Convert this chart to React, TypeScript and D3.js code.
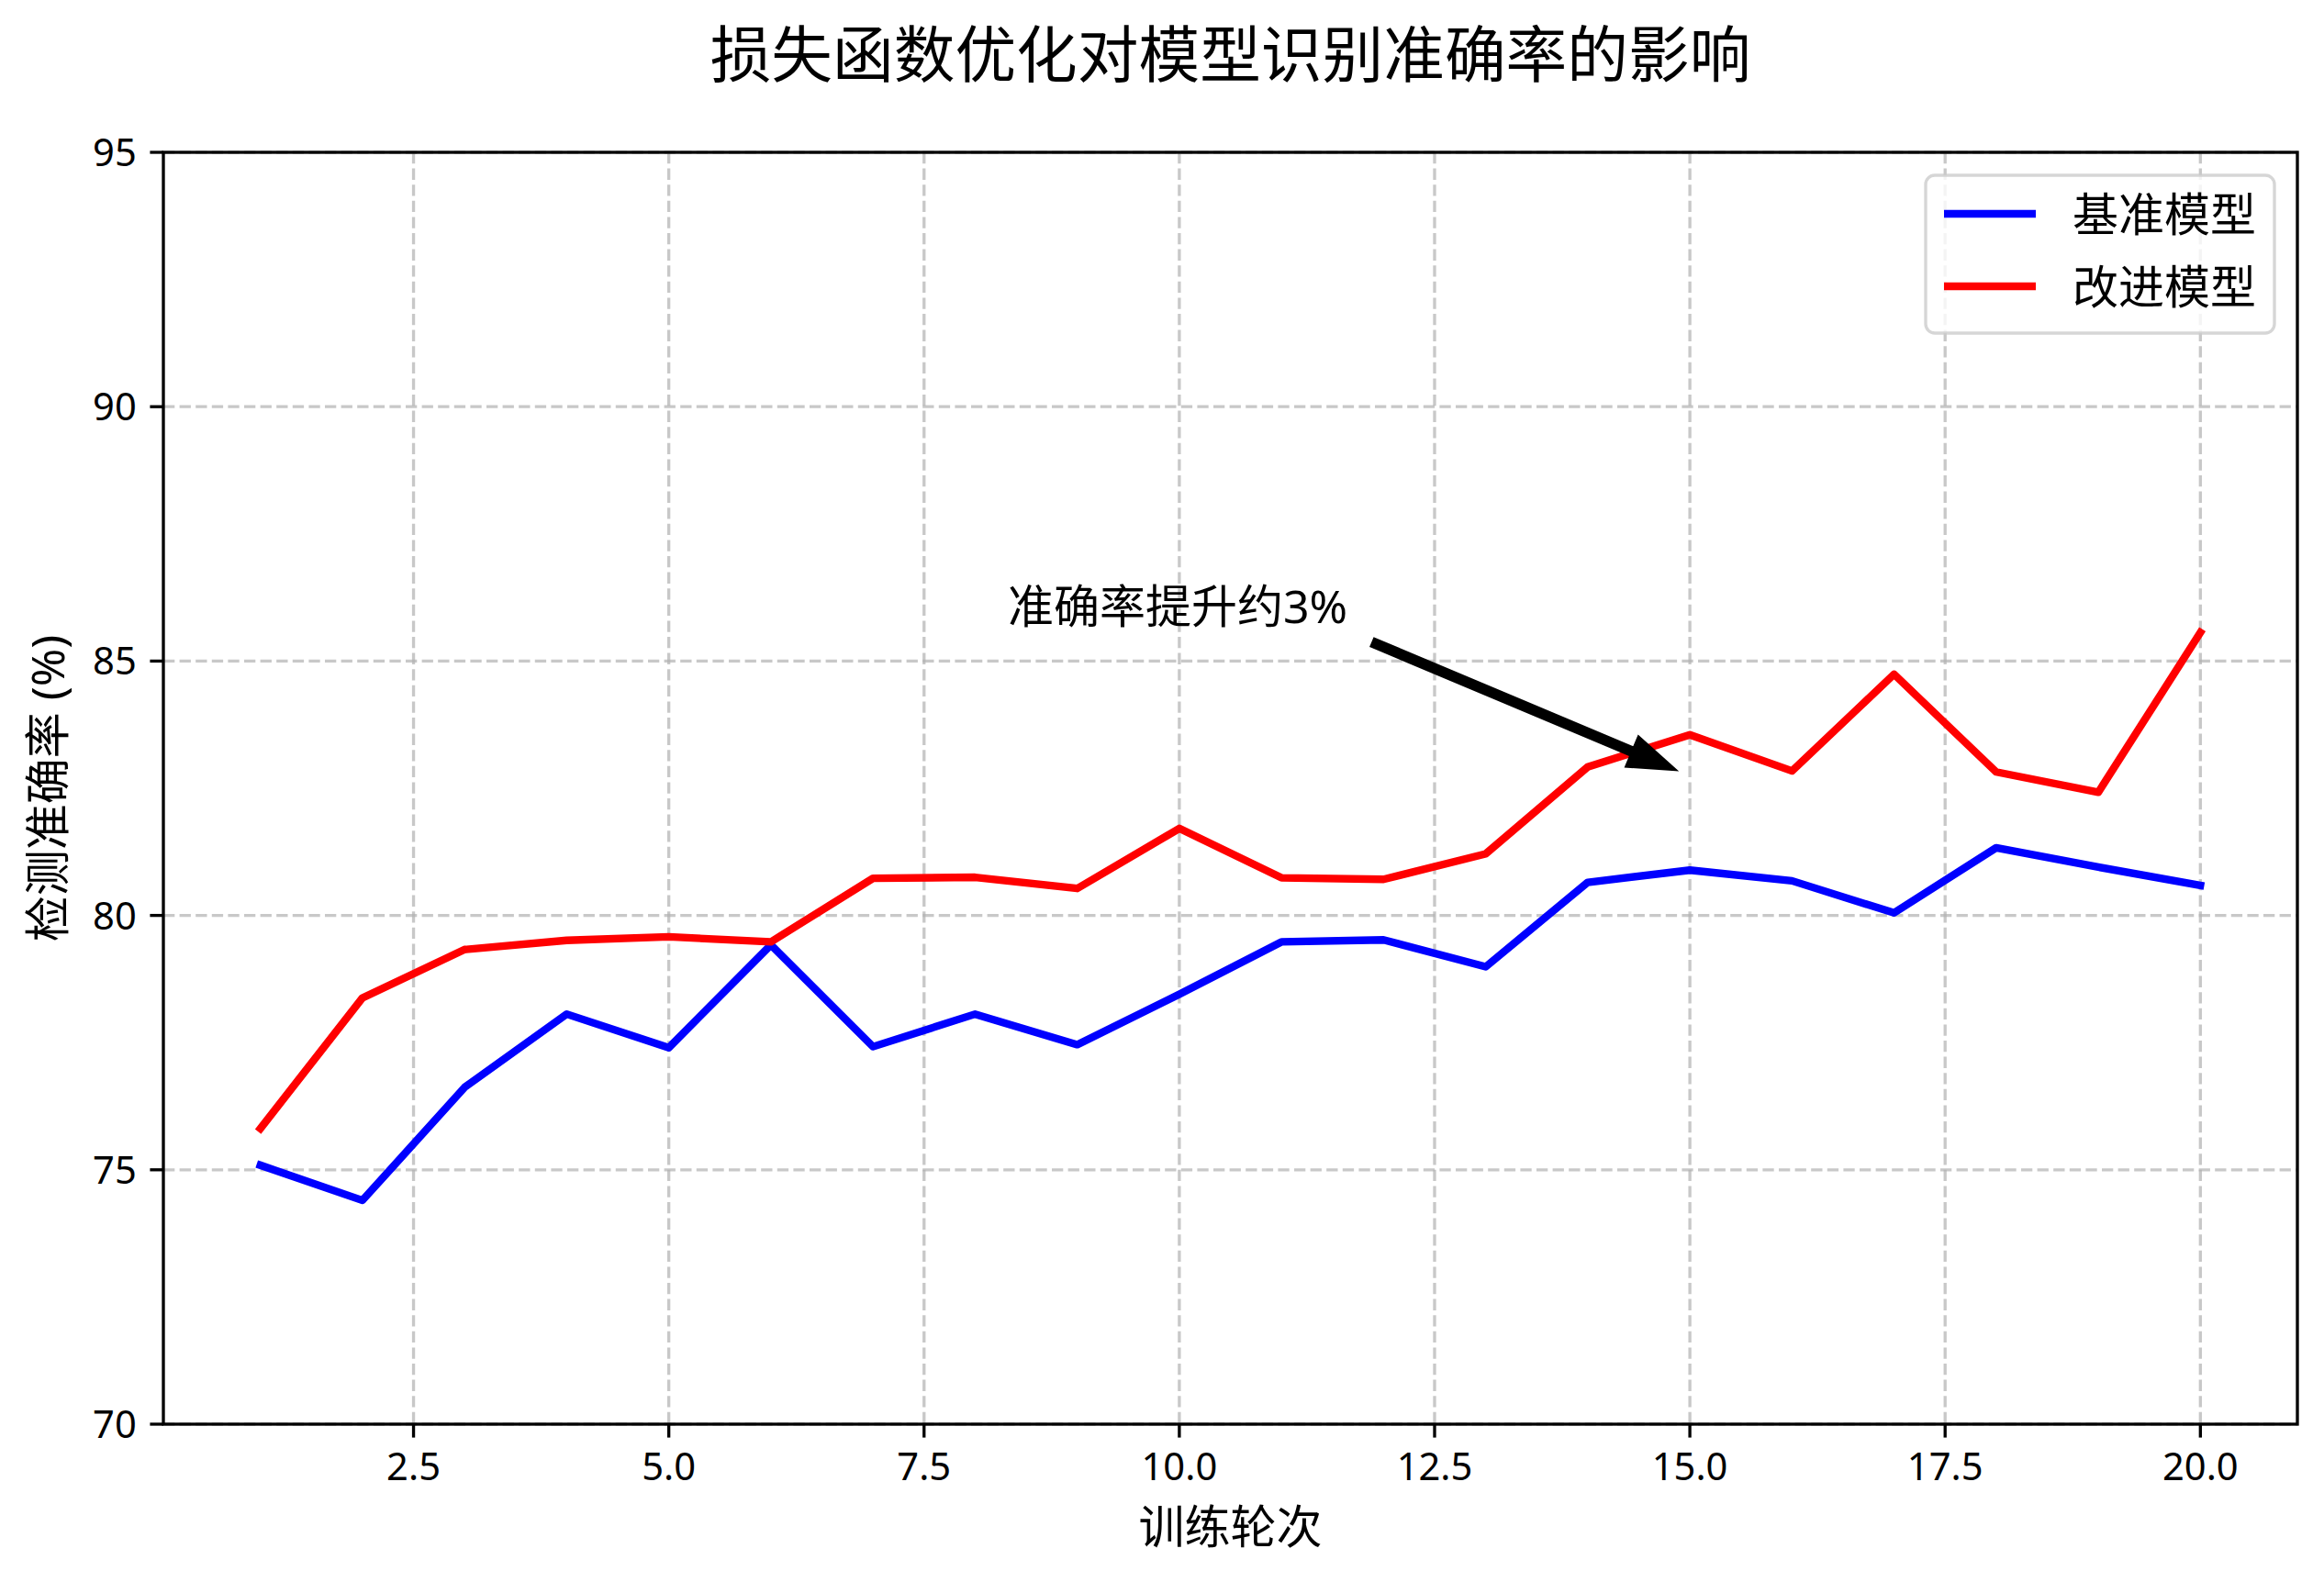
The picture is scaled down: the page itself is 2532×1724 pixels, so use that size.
import React from "react";
import * as d3 from "d3";

const epochs = [1, 2, 3, 4, 5, 6, 7, 8, 9, 10, 11, 12, 13, 14, 15, 16, 17, 18, 19, 20];
const baseline = [75.09, 74.4, 76.62, 78.06, 77.4, 79.42, 77.42, 78.06, 77.46, 78.45, 79.48, 79.52, 78.99, 80.65, 80.89, 80.68, 80.05, 81.33, 80.95, 80.59];
const improved = [75.81, 78.38, 79.33, 79.51, 79.58, 79.48, 80.73, 80.75, 80.53, 81.71, 80.74, 80.71, 81.21, 82.92, 83.55, 82.84, 84.74, 82.82, 82.42, 85.56];
const xTicks = [2.5, 5.0, 7.5, 10.0, 12.5, 15.0, 17.5, 20.0];
const yTicks = [70, 75, 80, 85, 90, 95];
const seriesNames = ["基准模型", "改进模型"];
const seriesColors = ["#0000ff", "#ff0000"];
const titleText = "损失函数优化对模型识别准确率的影响";
const xLabel = "训练轮次";
const yLabel = "检测准确率 (%)";
const annotationText = "准确率提升约3%";
const annotationTextPos = [8.32, 85.75];
const arrowTail = [11.9, 85.36];
const arrowTip = [14.84, 82.88];

const W = 2532;
const H = 1724;
const L = 178, R = 2503, T = 166, B = 1552;
const FONT = "'Noto Sans', 'Noto Sans CJK SC', sans-serif";

export default function App() {
  const x = d3.scaleLinear().domain([0.05, 20.95]).range([L, R]);
  const y = d3.scaleLinear().domain([70, 95]).range([B, T]);
  const line = d3
    .line<number>()
    .x((_, i) => x(epochs[i]))
    .y((d) => y(d));

  const series = [baseline, improved];

  // arrow polygon
  const tx = x(arrowTail[0]), ty = y(arrowTail[1]);
  const px = x(arrowTip[0]), py = y(arrowTip[1]);
  const len = Math.hypot(px - tx, py - ty);
  const ux = (px - tx) / len, uy = (py - ty) / len;
  const nx = -uy, ny = ux;
  const tw = 7.5, hw = 33, hl = 48;
  const bx = px - ux * hl, by = py - uy * hl;
  const pts = [
    [tx + nx * tw / 2, ty + ny * tw / 2],
    [bx + nx * tw / 2, by + ny * tw / 2],
    [bx + nx * hw / 2, by + ny * hw / 2],
    [px, py],
    [bx - nx * hw / 2, by - ny * hw / 2],
    [bx - nx * tw / 2, by - ny * tw / 2],
    [tx - nx * tw / 2, ty - ny * tw / 2],
  ];

  return (
    <svg
      width={W}
      height={H}
      style={{ position: "absolute", left: 0, top: 0, display: "block", background: "#fff" }}
      fontFamily={FONT}
    >
      <rect x={0} y={0} width={W} height={H} fill="#fff" />
      {/* grid */}
      <g stroke="#b0b0b0" strokeOpacity={0.7} strokeWidth={3.33} strokeDasharray="12.3 5.3">
        {xTicks.map((t) => (
          <line key={"gx" + t} x1={x(t)} x2={x(t)} y1={T} y2={B} />
        ))}
        {yTicks.map((t) => (
          <line key={"gy" + t} x1={L} x2={R} y1={y(t)} y2={y(t)} />
        ))}
      </g>
      {/* lines */}
      {series.map((s, i) => (
        <path
          key={"s" + i}
          d={line(s) || ""}
          fill="none"
          stroke={seriesColors[i]}
          strokeWidth={8.33}
          strokeLinejoin="round"
          strokeLinecap="square"
        />
      ))}
      {/* axes frame */}
      <rect x={L} y={T} width={R - L} height={B - T} fill="none" stroke="#000" strokeWidth={3.33} />
      {/* x ticks */}
      {xTicks.map((t) => (
        <g key={"xt" + t}>
          <line x1={x(t)} x2={x(t)} y1={B} y2={B + 14.6} stroke="#000" strokeWidth={3.33} />
          <text x={x(t)} y={1613} fontSize={41.7} textAnchor="middle" fill="#000">
            {t.toFixed(1)}
          </text>
        </g>
      ))}
      {/* y ticks */}
      {yTicks.map((t) => (
        <g key={"yt" + t}>
          <line x1={L - 14.6} x2={L} y1={y(t)} y2={y(t)} stroke="#000" strokeWidth={3.33} />
          <text x={L - 29.2} y={y(t) + 15} fontSize={41.7} textAnchor="end" fill="#000">
            {t}
          </text>
        </g>
      ))}
      {/* labels */}
      <text x={(L + R) / 2} y={84} fontSize={66.7} textAnchor="middle" fill="#000">
        {titleText}
      </text>
      <text x={(L + R) / 2} y={1682} fontSize={50} textAnchor="middle" fill="#000">
        {xLabel}
      </text>
      <text
        transform={`translate(70, ${(T + B) / 2}) rotate(-90)`}
        fontSize={50}
        textAnchor="middle"
        fill="#000"
      >
        {yLabel}
      </text>
      {/* annotation */}
      <text x={x(annotationTextPos[0])} y={y(annotationTextPos[1])} fontSize={50} fill="#000">
        {annotationText}
      </text>
      <polygon
        points={pts.map((p) => p.join(",")).join(" ")}
        fill="#000"
        stroke="#000"
        strokeWidth={4.2}
        strokeLinejoin="miter"
      />
      {/* legend */}
      <g>
        <rect
          x={2098}
          y={191}
          width={380}
          height={172}
          rx={10}
          ry={10}
          fill="#fff"
          fillOpacity={0.8}
          stroke="#cccccc"
          strokeOpacity={0.8}
          strokeWidth={3.33}
        />
        {seriesNames.map((n, i) => (
          <g key={"lg" + i}>
            <line
              x1={2118}
              x2={2218}
              y1={233 + i * 79}
              y2={233 + i * 79}
              stroke={seriesColors[i]}
              strokeWidth={8.33}
              strokeLinecap="butt"
            />
            <text x={2258} y={252 + i * 79} fontSize={50} fill="#000">
              {n}
            </text>
          </g>
        ))}
      </g>
    </svg>
  );
}
